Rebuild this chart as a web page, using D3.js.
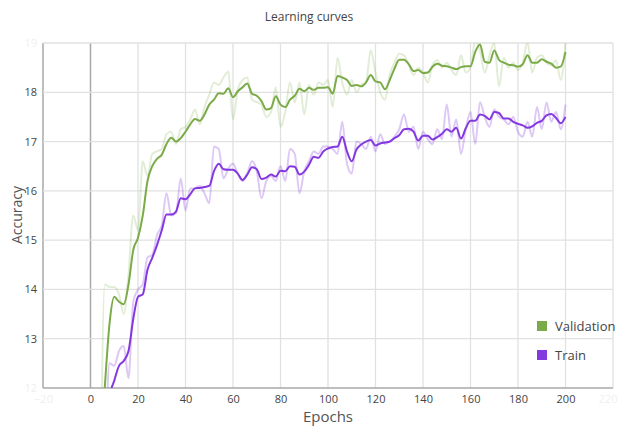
<!DOCTYPE html>
<html>
<head>
<meta charset="utf-8">
<script src="https://cdn.jsdelivr.net/npm/d3@7"></script>
<style>
  html, body { margin: 0; padding: 0; background: #fff; }
  svg { display: block; font-family: "Open Sans", "DejaVu Sans", sans-serif; }
</style>
</head>
<body>
<svg id="chart" width="618" height="426"></svg>
<script>
// Epochs sampled every 2 steps
const epochs = d3.range(4, 201, 2);

// Validation accuracy: raw per-epoch values and the smoothed curve
const valRaw = [
  9.0, 14.1, 14.05, 14.05, 13.9, 13.5, 14.3, 15.5, 15.2, 16.6,
  16.3, 16.75, 16.8, 16.85, 17.15, 17.2, 16.95, 17.25, 17.3, 17.45,
  17.65, 17.35, 17.7, 17.95, 18.2, 18.15, 18.3, 18.42, 17.45, 18.05,
  18.25, 18.3, 17.85, 17.8, 17.75, 17.5, 17.6, 18.1, 17.3, 17.6,
  18.2, 17.8, 18.2, 17.55, 18.15, 17.95, 18.2, 18.15, 18.25, 17.7,
  18.7, 18.2, 17.95, 18.25, 18.0, 18.15, 18.2, 18.85, 18.4, 18.0,
  17.85, 18.35, 18.6, 18.78, 18.75, 18.55, 18.35, 18.5, 18.4, 18.2,
  18.55, 18.65, 18.5, 18.6, 18.45, 18.35, 18.75, 18.4, 18.5, 19.05,
  18.85, 18.4, 18.75, 19.0, 18.12, 18.7, 18.5, 18.6, 18.45, 18.6,
  19.02, 18.4, 18.7, 18.75, 18.6, 18.55, 18.65, 18.25, 19.0
];
const valSmooth = [
  10.5, 12.0, 13.3, 13.85, 13.75, 13.7, 14.1, 14.8, 15.05, 15.5,
  16.2, 16.5, 16.65, 16.73, 16.95, 17.08, 17.0, 17.07, 17.2, 17.35,
  17.46, 17.42, 17.55, 17.75, 17.85, 17.98, 17.97, 18.08, 17.9, 18.02,
  18.1, 18.18, 17.97, 17.93, 17.82, 17.65, 17.68, 17.92, 17.75, 17.7,
  17.85, 17.93, 18.07, 18.02, 18.09, 18.05, 18.09, 18.09, 18.1, 17.97,
  18.33, 18.3, 18.25, 18.13, 18.15, 18.12, 18.2, 18.35, 18.22, 18.2,
  18.06, 18.25, 18.48, 18.66, 18.66, 18.57, 18.43, 18.45, 18.39, 18.4,
  18.52, 18.58, 18.54, 18.53, 18.5, 18.47, 18.51, 18.53, 18.53, 18.82,
  18.97, 18.62, 18.6, 18.85, 18.66, 18.6, 18.56, 18.55, 18.52, 18.57,
  18.75, 18.6, 18.6, 18.67, 18.62, 18.58, 18.5, 18.52, 18.82
];

// Training accuracy: raw per-epoch values and the smoothed curve
const trainRaw = [
  9.0, 10.5, 12.5, 12.45, 12.75, 12.85, 12.2, 13.75, 14.0, 14.1,
  14.65, 14.7, 15.1, 15.3, 15.95, 15.5, 15.55, 16.25, 15.6, 16.05,
  16.05, 16.1, 15.95, 15.75, 16.9, 16.85, 16.25, 16.45, 16.55, 16.35,
  16.2, 16.35, 16.6, 16.4, 15.85, 16.2, 16.3, 16.2, 16.5, 16.2,
  16.85, 16.75, 15.95, 16.4, 16.6, 16.8, 16.75, 16.9, 16.9, 16.85,
  16.75, 17.4, 16.55, 16.35, 17.0, 16.95, 16.85, 17.1, 16.8, 17.15,
  16.95, 17.0, 17.1, 17.25, 17.55, 17.2, 17.3, 16.85, 17.2, 17.05,
  16.95, 17.25, 17.05, 17.75, 17.1, 17.45, 16.75, 17.25, 17.6, 16.95,
  17.8, 17.5, 17.3, 17.65, 17.5, 17.45, 17.35, 17.5, 17.2, 17.1,
  17.4, 17.1, 17.7, 17.25, 17.8, 17.4, 17.6, 17.25, 17.75
];
const trainSmooth = [
  9.5, 10.5, 11.8, 12.15, 12.45, 12.55, 12.75, 13.4, 13.85, 13.9,
  14.4, 14.64, 14.9, 15.2, 15.52, 15.52, 15.58, 15.85, 15.83, 15.93,
  16.05, 16.06, 16.08, 16.1, 16.4, 16.55, 16.44, 16.43, 16.43, 16.35,
  16.22, 16.33, 16.48, 16.44, 16.24, 16.27, 16.33, 16.29, 16.41, 16.4,
  16.5, 16.49, 16.33, 16.39, 16.53, 16.69, 16.67, 16.8, 16.86, 16.89,
  16.9, 17.1, 16.8, 16.6, 16.84, 16.94, 17.0, 17.03, 16.92, 16.96,
  16.98, 17.0, 17.07, 17.13, 17.25, 17.26, 17.2, 17.02, 17.12, 17.12,
  17.04, 17.09, 17.16, 17.25, 17.2, 17.28, 17.06, 17.27, 17.42, 17.42,
  17.55, 17.52, 17.45, 17.6, 17.58, 17.47, 17.47, 17.4, 17.36, 17.33,
  17.28, 17.31, 17.38, 17.42, 17.53, 17.56, 17.48, 17.37, 17.5
];

const seriesNames = ["Validation", "Train"];
const seriesColors = ["#7aab48", "#8438e0"];
const xTicks = d3.range(-20, 221, 20);
const yTicks = d3.range(12, 20, 1);

const svg = d3.select("#chart");
const margin = { left: 43, right: 5, top: 43, bottom: 38 };
const W = 618, H = 426;

const x = d3.scaleLinear().domain([-20, 220]).range([margin.left, W - margin.right]);
const y = d3.scaleLinear().domain([12, 19]).range([H - margin.bottom, margin.top]);

svg.append("defs").append("clipPath").attr("id", "plotClip")
  .append("rect")
  .attr("x", x(-20)).attr("y", y(19))
  .attr("width", x(220) - x(-20)).attr("height", y(12) - y(19));

// Grid
const grid = svg.append("g");
grid.selectAll("line.v").data(xTicks).join("line")
  .attr("x1", d => x(d)).attr("x2", d => x(d))
  .attr("y1", y(19)).attr("y2", y(12))
  .attr("stroke", d => (d === 0 || d === -20) ? "#a8a8a8" : "#e1e1e1")
  .attr("stroke-width", d => (d === 0 || d === -20) ? 1.5 : 1.3);
grid.selectAll("line.h").data(yTicks).join("line")
  .attr("x1", x(-20)).attr("x2", x(220))
  .attr("y1", d => y(d)).attr("y2", d => y(d))
  .attr("stroke", d => d === 12 ? "#a8a8a8" : "#e1e1e1")
  .attr("stroke-width", d => d === 12 ? 1.5 : 1.3);

// Axes tick labels (end ticks drawn faded)
const xAxis = d3.axisBottom(x).tickValues(xTicks).tickFormat(d3.format("d")).tickSize(0).tickPadding(7);
const gx = svg.append("g").attr("transform", `translate(0,${y(12)})`).call(xAxis);
gx.select(".domain").remove();
gx.selectAll("text")
  .attr("font-size", 11)
  .attr("font-family", "'Open Sans', sans-serif")
  .attr("fill", d => (d === -20 || d === 220) ? "#efefef" : "#444");
gx.selectAll(".tick").filter(d => d === 220).select("text")
  .attr("text-anchor", "end").attr("dx", 4);

const yAxis = d3.axisLeft(y).tickValues(yTicks).tickFormat(d3.format("d")).tickSize(0).tickPadding(6);
const gy = svg.append("g").attr("transform", `translate(${x(-20)},0)`).call(yAxis);
gy.select(".domain").remove();
gy.selectAll("text")
  .attr("font-size", 11)
  .attr("font-family", "'Open Sans', sans-serif")
  .attr("fill", d => (d === 12 || d === 19) ? "#efefef" : "#444");

// Lines
const line = d3.line()
  .x((d, i) => x(epochs[i]))
  .y(d => y(d))
  .curve(d3.curveMonotoneX);

const plot = svg.append("g").attr("clip-path", "url(#plotClip)");
const rawSets = [valRaw, trainRaw];
const smoothSets = [valSmooth, trainSmooth];

rawSets.forEach((vals, k) => {
  plot.append("path").datum(vals)
    .attr("d", line)
    .attr("fill", "none")
    .attr("stroke", seriesColors[k])
    .attr("stroke-opacity", k === 0 ? 0.22 : 0.28)
    .attr("stroke-width", 2);
});
smoothSets.forEach((vals, k) => {
  plot.append("path").datum(vals)
    .attr("d", line)
    .attr("fill", "none")
    .attr("stroke", seriesColors[k])
    .attr("stroke-width", 2)
    .attr("stroke-linejoin", "round");
});

// Title and axis labels
svg.append("text").attr("x", 309).attr("y", 21)
  .attr("text-anchor", "middle").attr("font-size", 12).attr("fill", "#444")
  .text("Learning curves");
svg.append("text").attr("x", 328).attr("y", 422)
  .attr("text-anchor", "middle").attr("font-size", 15).attr("fill", "#555")
  .text("Epochs");
svg.append("text")
  .attr("transform", "translate(22,215) rotate(-90)")
  .attr("text-anchor", "middle").attr("font-size", 14).attr("fill", "#555")
  .text("Accuracy");

// Legend
const legend = svg.append("g");
seriesNames.forEach((name, k) => {
  const ly = 321 + k * 29;
  legend.append("rect").attr("x", 537).attr("y", ly)
    .attr("width", 10).attr("height", 10)
    .attr("fill", seriesColors[k]);
  legend.append("text").attr("x", 555).attr("y", ly + 10)
    .attr("font-size", 13).attr("fill", "#444")
    .text(name);
});
</script>
</body>
</html>
